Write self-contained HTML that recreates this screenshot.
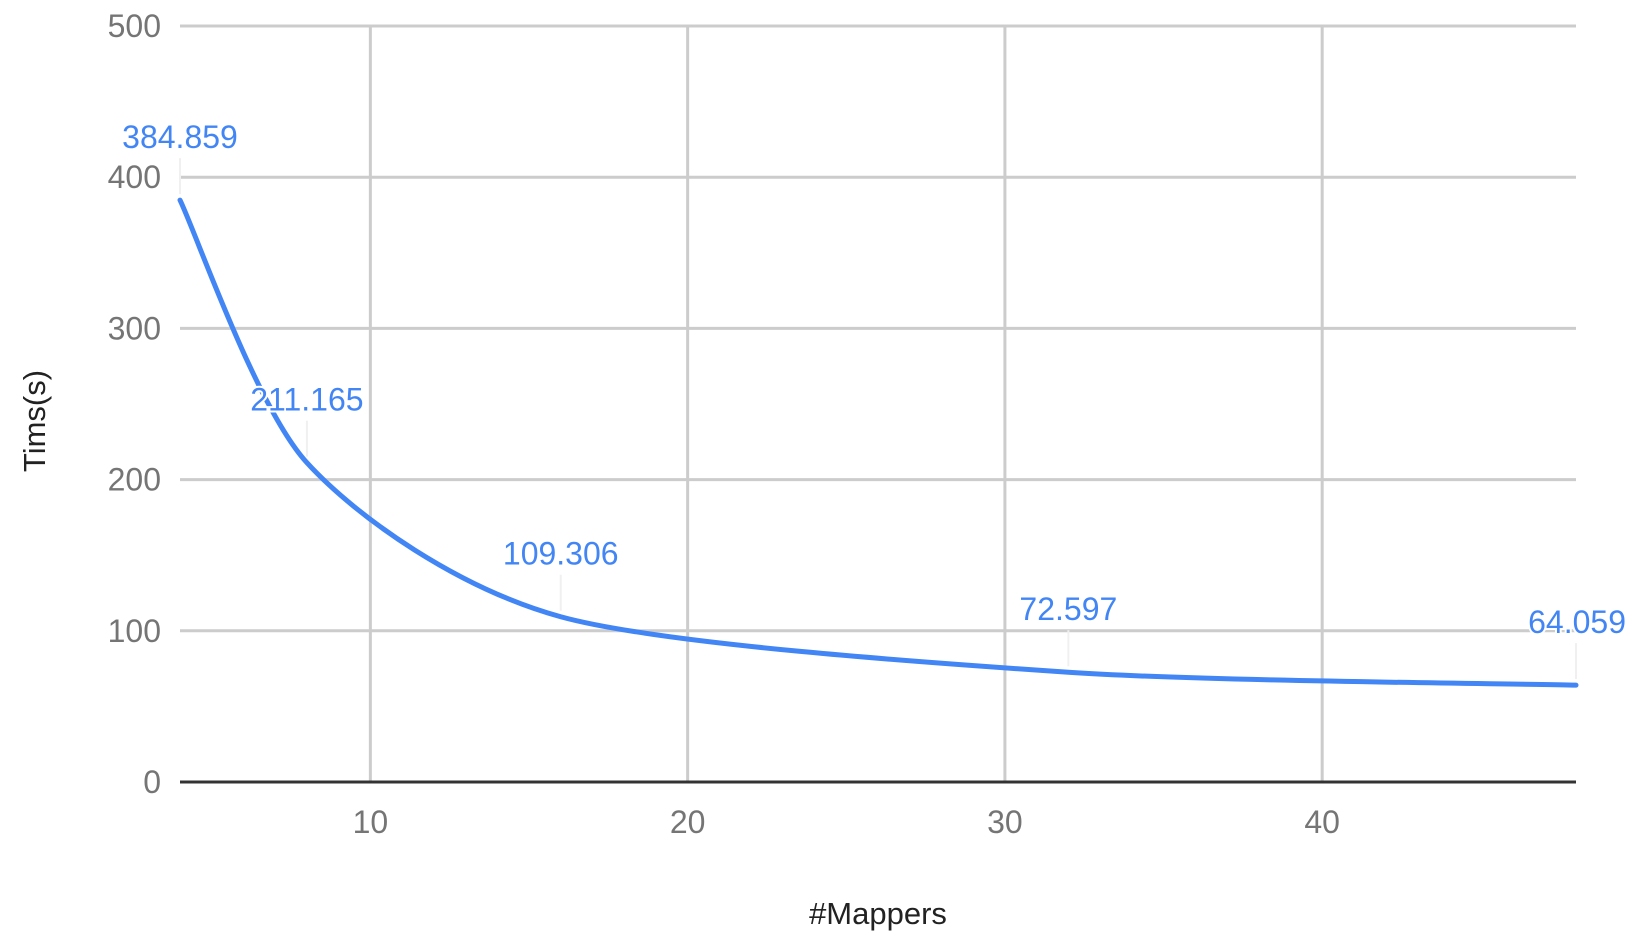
<!DOCTYPE html>
<html><head><meta charset="utf-8"><style>
html,body{margin:0;padding:0;background:#fff;}
svg{display:block;font-family:"Liberation Sans",Arial,sans-serif;}
</style></head><body>
<svg id="chart" width="1628" height="933" viewBox="0 0 1628 933">
<g id="grid"></g><g id="axes"></g><g id="series"></g><g id="labels"></g>
<text x="45" y="421" transform="rotate(-90 45 421)" text-anchor="middle" font-size="31" fill="#222">Tims(s)</text>
<text x="878" y="924" text-anchor="middle" font-size="31" fill="#222">#Mappers</text>
</svg>
<script>
const categories = [4, 8, 16, 32, 48];
const values = [384.859, 211.165, 109.306, 72.597, 64.059];
const valueLabels = ["384.859", "211.165", "109.306", "72.597", "64.059"];
const yTicks = [0, 100, 200, 300, 400, 500];
const xTicks = [10, 20, 30, 40];

const NS = "http://www.w3.org/2000/svg";
const L = 180, R = 1576, T = 26, B = 782;
const xMin = 4, xMax = 48, yMin = 0, yMax = 500;
const xs = v => L + (v - xMin) / (xMax - xMin) * (R - L);
const ys = v => B - (v - yMin) / (yMax - yMin) * (B - T);
function mk(tag, attrs, parent){const e=document.createElementNS(NS,tag);for(const k in attrs)e.setAttribute(k,attrs[k]);parent.appendChild(e);return e;}
const grid=document.getElementById('grid'), axes=document.getElementById('axes'), series=document.getElementById('series'), labels=document.getElementById('labels');

yTicks.forEach(t=>{
  if(t!==0){const g=mk('line',{x1:L,x2:R,y1:ys(t),y2:ys(t),stroke:'#cccccc','stroke-width':3},grid);
  
  }
  const tx=mk('text',{x:161,y:ys(t)+11,'text-anchor':'end','font-size':32,fill:'#757575'},axes);
  tx.textContent=t;
  
  
});
xTicks.forEach(t=>{
  const g=mk('line',{x1:xs(t),x2:xs(t),y1:T,y2:B,stroke:'#cccccc','stroke-width':3},grid);
  
  
  const tx=mk('text',{x:xs(t),y:833,'text-anchor':'middle','font-size':32,fill:'#757575'},axes);
  tx.textContent=t;
  
  
});
const base=mk('line',{x1:L,x2:R,y1:B,y2:B,stroke:'#333','stroke-width':3},axes);



const pts=categories.map((c,i)=>[xs(c),ys(values[i])]);
let d=`M${pts[0][0]},${pts[0][1]}`;
const k=0.8;
for(let i=0;i<pts.length-1;i++){
  const p0=pts[Math.max(i-1,0)],p1=pts[i],p2=pts[i+1],p3=pts[Math.min(i+2,pts.length-1)];
  const c1=[p1[0]+(p2[0]-p0[0])/6*k,p1[1]+(p2[1]-p0[1])/6*k];
  const c2=[p2[0]-(p3[0]-p1[0])/6*k,p2[1]-(p3[1]-p1[1])/6*k];
  d+=` C${c1[0]},${c1[1]} ${c2[0]},${c2[1]} ${p2[0]},${p2[1]}`;
}
const line=mk('path',{d:d,fill:'none',stroke:'#4285f4','stroke-width':5,'stroke-linejoin':'round','stroke-linecap':'round'},series);



pts.forEach((p,i)=>{
  const ly=p[1]-52;
  const ld=mk('line',{x1:p[0],x2:p[0],y1:ly+10,y2:p[1]-6,stroke:'#f0f0f0','stroke-width':2},labels);
  
  
  const last=i===pts.length-1;
  const tx=mk('text',{x:last?1626:p[0],y:ly,'text-anchor':last?'end':'middle','font-size':32,fill:'#4285f4',stroke:'#fff','stroke-width':4,'paint-order':'stroke'},labels);
  tx.textContent=valueLabels[i];
  
  
});
</script>
</body></html>
